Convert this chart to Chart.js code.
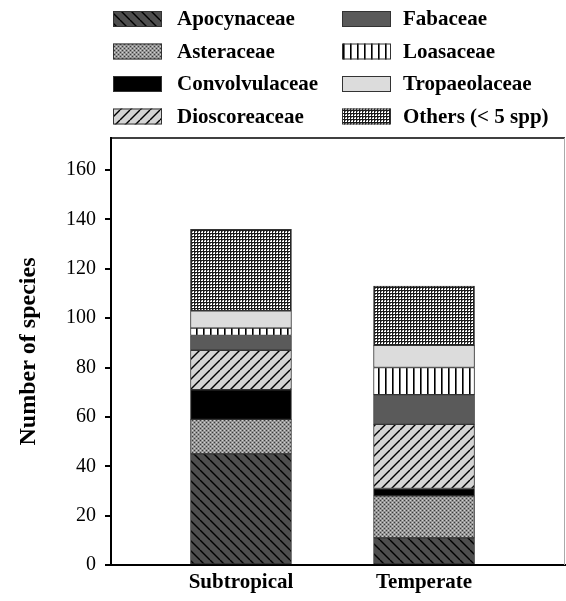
<!DOCTYPE html>
<html>
<head>
<meta charset="utf-8">
<script src="https://cdn.jsdelivr.net/npm/chart.js@4/dist/chart.umd.min.js"></script>
<style>
  html, body { margin: 0; padding: 0; background: #fff; }
  #wrap { width: 566px; height: 601px; }
</style>
</head>
<body>
<div id="wrap"><canvas id="chart" width="566" height="601"></canvas></div>
<script>
const regions = ['Subtropical', 'Temperate'];
const families = ['Apocynaceae', 'Asteraceae', 'Convolvulaceae', 'Dioscoreaceae',
                  'Fabaceae', 'Loasaceae', 'Tropaeolaceae', 'Others (< 5 spp)'];
// species counts per family, same order as families
const subtropical = [45, 14, 12, 16, 6, 3, 7, 33];
const temperate   = [11, 17, 3, 26, 12, 11, 9, 24];
const yTicks = [0, 20, 40, 60, 80, 100, 120, 140, 160];

const SERIF = '"Liberation Serif", "Times New Roman", serif';

function tile(size, draw) {
    const c = document.createElement('canvas');
    c.width = size; c.height = size;
    const g = c.getContext('2d');
    draw(g, size);
    return document.getElementById('chart').getContext('2d').createPattern(c, 'repeat');
}

function hatch(bg, dir) {
    return tile(10, (g, s) => {
        g.fillStyle = bg;
        g.fillRect(0, 0, s, s);
        g.strokeStyle = '#000';
        g.lineWidth = 1.4;
        for (let k = -1; k <= 1; k++) {
            g.beginPath();
            if (dir === 'back') {
                g.moveTo(k * s, 0); g.lineTo(k * s + s, s);
            } else {
                g.moveTo(k * s, s); g.lineTo(k * s + s, 0);
            }
            g.stroke();
        }
    });
}

const fills = [
    hatch('#4e4e4e', 'back'),
    tile(4, (g) => {
        g.fillStyle = '#959595'; g.fillRect(0, 0, 4, 4);
        g.fillStyle = '#3c3c3c'; g.fillRect(0, 0, 1, 1); g.fillRect(2, 2, 1, 1);
        g.fillStyle = '#d0d0d0'; g.fillRect(2, 0, 1, 1); g.fillRect(0, 2, 1, 1);
    }),
    '#000000',
    hatch('#d4d4d4', 'fwd'),
    '#5a5a5a',
    tile(7, (g) => {
        g.fillStyle = '#fff'; g.fillRect(0, 0, 7, 7);
        g.fillStyle = '#000'; g.fillRect(0, 0, 1.6, 7);
    }),
    '#dcdcdc',
    tile(3, (g) => {
        g.fillStyle = '#1a1a1a'; g.fillRect(0, 0, 3, 3);
        g.fillStyle = '#ffffff'; g.fillRect(0, 0, 2, 2);
        g.fillStyle = '#777'; g.fillRect(0, 0, 1, 1);
    })
];

const datasets = families.map((name, i) => ({
    label: name,
    data: [subtropical[i], temperate[i]].map((v, j) => ({ x: j + 1, y: v })),
    backgroundColor: fills[i],
    borderColor: '#333',
    borderWidth: 1,
    borderSkipped: false,
    barThickness: 101
}));

const framePlugin = {
    id: 'frame',
    afterDraw(chart) {
        const { ctx, chartArea: a } = chart;
        ctx.save();
        ctx.strokeStyle = '#000';
        ctx.lineWidth = 1.5;
        ctx.beginPath();
        ctx.moveTo(a.left, a.top); ctx.lineTo(a.right, a.top);
        ctx.stroke();
        ctx.strokeStyle = '#aaa';
        ctx.lineWidth = 1;
        ctx.beginPath();
        ctx.moveTo(a.right - 0.5, a.top); ctx.lineTo(a.right - 0.5, a.bottom);
        ctx.stroke();
        ctx.restore();
    }
};

const legendPlugin = {
    id: 'gridLegend',
    afterDraw(chart) {
        const ctx = chart.ctx;
        ctx.save();
        ctx.font = 'bold 21px ' + SERIF;
        ctx.textBaseline = 'middle';
        ctx.fillStyle = '#000';
        chart.data.datasets.forEach((ds, i) => {
            const col = i < 4 ? 0 : 1;
            const row = i % 4;
            const bx = col ? 342 : 113;
            const by = 11 + row * 32.5;
            ctx.fillStyle = ds.backgroundColor;
            ctx.fillRect(bx, by, 49, 16);
            ctx.strokeStyle = '#333';
            ctx.lineWidth = 1;
            ctx.strokeRect(bx + 0.5, by + 0.5, 48, 15);
            ctx.fillStyle = '#000';
            ctx.fillText(ds.label, col ? 403 : 177, by + 9);
        });
        ctx.restore();
    }
};

new Chart(document.getElementById('chart'), {
    type: 'bar',
    data: { datasets },
    options: {
        responsive: false,
        animation: false,
        layout: { padding: { top: 138, right: 1, left: 0, bottom: 0 } },
        plugins: { legend: { display: false }, tooltip: { enabled: false } },
        scales: {
            x: {
                type: 'linear',
                stacked: true,
                offset: false,
                min: 0.29,
                max: 2.77,
                afterFit: (s) => { s.height = 36; },
                afterBuildTicks: (s) => { s.ticks = regions.map((_, j) => ({ value: j + 1 })); },
                ticks: {
                    autoSkip: false,
                    maxRotation: 0,
                    padding: -3,
                    color: '#000',
                    font: { family: SERIF, size: 21, weight: 'bold' },
                    callback: (v) => regions[v - 1]
                },
                grid: { display: false },
                border: { display: true, color: '#000', width: 2 }
            },
            y: {
                stacked: true,
                min: 0,
                max: 173,
                afterFit: (s) => { s.width = 111; },
                afterBuildTicks: (s) => { s.ticks = yTicks.map(v => ({ value: v })); },
                ticks: {
                    padding: 9,
                    color: '#000',
                    font: { family: SERIF, size: 20 }
                },
                grid: { drawOnChartArea: false, drawTicks: true, tickLength: 6, color: '#000', lineWidth: 2 },
                border: { display: true, color: '#000', width: 2 },
                title: {
                    display: true,
                    text: 'Number of species',
                    color: '#000',
                    padding: { top: 14, bottom: 0 },
                    font: { family: SERIF, size: 24, weight: 'bold' }
                }
            }
        }
    },
    plugins: [framePlugin, legendPlugin]
});
</script>
</body>
</html>
